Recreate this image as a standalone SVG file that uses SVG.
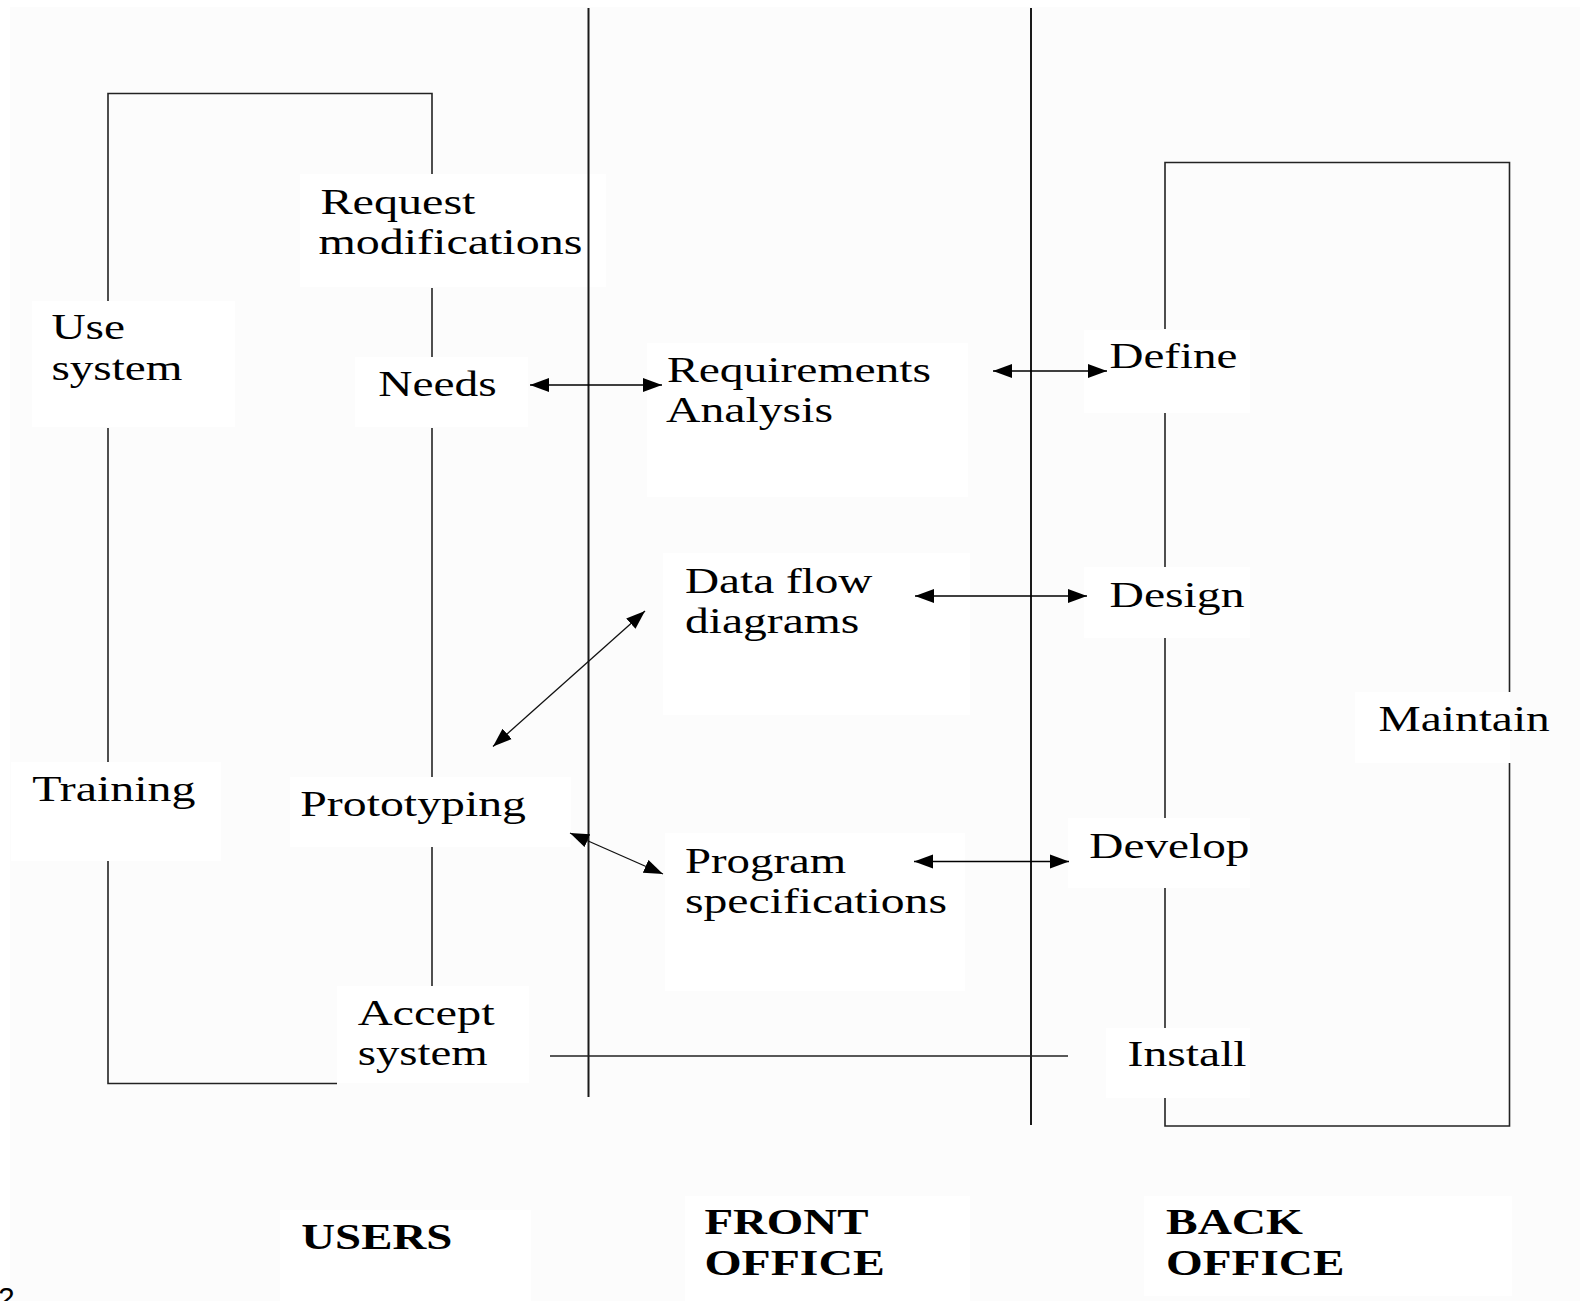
<svg xmlns="http://www.w3.org/2000/svg" width="1580" height="1301" viewBox="0 0 1580 1301">
  <style>
    .bg { fill: #fcfcfc; }
    .box { fill: #ffffff; }
    .t { font-family: "Liberation Serif", "Times New Roman", serif; font-size: 35px; fill: #000; }
    .h { font-family: "Liberation Serif", "Times New Roman", serif; font-size: 35px; font-weight: bold; fill: #000; }
    .lane { stroke: #1a1a1a; stroke-width: 2; fill: none; }
    .loop { stroke: #222; stroke-width: 1.6; fill: none; }
    .arr { stroke: #000; stroke-width: 1.7; fill: none; marker-start: url(#head); marker-end: url(#head); }
    .diag { stroke: #111; stroke-width: 1.3; fill: none; marker-start: url(#head); marker-end: url(#head); }
  </style>
  <defs>
    <marker id="head" markerUnits="userSpaceOnUse" markerWidth="20" markerHeight="16" viewBox="0 0 20 16" refX="19" refY="7.5" orient="auto-start-reverse">
      <path d="M0,0.5 L19,7.5 L0,14.5 z" fill="#000"/>
    </marker>
  </defs>

  <!-- page -->
  <rect x="0" y="0" width="1580" height="1301" fill="#ffffff"/>
  <rect class="bg" x="10" y="7" width="1570" height="1294"/>

  <!-- labels (white panels under the text) -->
  <g id="use-system">
    <rect class="box" x="32" y="301" width="203" height="126"/>
    <text class="t" x="51.4" y="338.6" textLength="73.6" lengthAdjust="spacingAndGlyphs">Use</text>
    <text class="t" x="51.4" y="380" textLength="131" lengthAdjust="spacingAndGlyphs">system</text>
  </g>

  <g id="request-modifications">
    <rect class="box" x="300" y="174" width="306" height="113"/>
    <text class="t" x="320.5" y="213.6" textLength="155" lengthAdjust="spacingAndGlyphs">Request</text>
    <text class="t" x="318.4" y="254" textLength="264" lengthAdjust="spacingAndGlyphs">modifications</text>
  </g>

  <g id="needs">
    <rect class="box" x="355" y="357" width="173" height="70"/>
    <text class="t" x="378.3" y="395.7" textLength="118.4" lengthAdjust="spacingAndGlyphs">Needs</text>
  </g>

  <g id="requirements-analysis">
    <rect class="box" x="647" y="343" width="321" height="154"/>
    <text class="t" x="667" y="381.9" textLength="264" lengthAdjust="spacingAndGlyphs">Requirements</text>
    <text class="t" x="666" y="422.2" textLength="167" lengthAdjust="spacingAndGlyphs">Analysis</text>
  </g>

  <g id="define">
    <rect class="box" x="1084" y="330" width="166" height="83"/>
    <text class="t" x="1109.5" y="367.8" textLength="128" lengthAdjust="spacingAndGlyphs">Define</text>
  </g>

  <g id="data-flow-diagrams">
    <rect class="box" x="663" y="553" width="307" height="162"/>
    <text class="t" x="685" y="592.5" textLength="187.4" lengthAdjust="spacingAndGlyphs">Data flow</text>
    <text class="t" x="685" y="632.8" textLength="174.3" lengthAdjust="spacingAndGlyphs">diagrams</text>
  </g>

  <g id="design">
    <rect class="box" x="1084" y="567" width="166" height="71"/>
    <text class="t" x="1109.5" y="606.6" textLength="135" lengthAdjust="spacingAndGlyphs">Design</text>
  </g>

  <g id="maintain">
    <rect class="box" x="1355" y="692" width="155" height="71"/>
    <text class="t" x="1378.5" y="730.6" textLength="171.3" lengthAdjust="spacingAndGlyphs">Maintain</text>
  </g>

  <g id="training">
    <rect class="box" x="11" y="762" width="210" height="99"/>
    <text class="t" x="32.2" y="801.1" textLength="163.2" lengthAdjust="spacingAndGlyphs">Training</text>
  </g>

  <g id="prototyping">
    <rect class="box" x="290" y="777" width="281" height="70"/>
    <text class="t" x="300.3" y="816.2" textLength="225.7" lengthAdjust="spacingAndGlyphs">Prototyping</text>
  </g>

  <g id="program-specifications">
    <rect class="box" x="665" y="833" width="300" height="158"/>
    <text class="t" x="685" y="872.7" textLength="161.2" lengthAdjust="spacingAndGlyphs">Program</text>
    <text class="t" x="685" y="913" textLength="262" lengthAdjust="spacingAndGlyphs">specifications</text>
  </g>

  <g id="develop">
    <rect class="box" x="1068" y="818" width="182" height="70"/>
    <text class="t" x="1089.3" y="857.5" textLength="160.2" lengthAdjust="spacingAndGlyphs">Develop</text>
  </g>

  <g id="accept-system">
    <rect class="box" x="337" y="986" width="192" height="97"/>
    <text class="t" x="357.7" y="1024.8" textLength="137" lengthAdjust="spacingAndGlyphs">Accept</text>
    <text class="t" x="357.7" y="1065.1" textLength="130" lengthAdjust="spacingAndGlyphs">system</text>
  </g>

  <g id="install">
    <rect class="box" x="1106" y="1028" width="144" height="70"/>
    <text class="t" x="1127.6" y="1066.1" textLength="119" lengthAdjust="spacingAndGlyphs">Install</text>
  </g>

  <!-- lane captions -->
  <g id="users-lane">
    <rect class="box" x="280" y="1210" width="251" height="91"/>
    <text class="h" x="301.3" y="1248.5" textLength="151" lengthAdjust="spacingAndGlyphs">USERS</text>
  </g>

  <g id="front-office-lane">
    <rect class="box" x="685" y="1196" width="285" height="105"/>
    <text class="h" x="704.4" y="1234.4" textLength="164" lengthAdjust="spacingAndGlyphs">FRONT</text>
    <text class="h" x="704.4" y="1274.8" textLength="180.4" lengthAdjust="spacingAndGlyphs">OFFICE</text>
  </g>

  <g id="back-office-lane">
    <rect class="box" x="1144" y="1196" width="368" height="100"/>
    <text class="h" x="1166" y="1234.4" textLength="137" lengthAdjust="spacingAndGlyphs">BACK</text>
    <text class="h" x="1166" y="1274.8" textLength="178.4" lengthAdjust="spacingAndGlyphs">OFFICE</text>
  </g>

  <!-- swimlane dividers -->
  <g id="lanes">
    <line class="lane" x1="588.5" y1="8" x2="588.5" y2="1097"/>
    <line class="lane" x1="1031" y1="8" x2="1031" y2="1125"/>
  </g>

  <!-- loop edges and arrows -->
  <g id="connectors">
    <!-- users cycle -->
    <polyline class="loop" points="108,301 108,93.5 432,93.5 432,174"/>
    <line class="loop" x1="432" y1="288" x2="432" y2="357"/>
    <line class="loop" x1="108" y1="428" x2="108" y2="762"/>
    <line class="loop" x1="432" y1="428" x2="432" y2="777"/>
    <line class="loop" x1="432" y1="847" x2="432" y2="986"/>
    <polyline class="loop" points="108,861 108,1083.5 337,1083.5"/>
    <!-- accept system to install -->
    <line class="loop" x1="550" y1="1056" x2="1068" y2="1056"/>
    <!-- back office cycle -->
    <polyline class="loop" points="1165,329 1165,162.5 1509.5,162.5 1509.5,692"/>
    <line class="loop" x1="1165" y1="413" x2="1165" y2="567"/>
    <line class="loop" x1="1165" y1="638" x2="1165" y2="818"/>
    <line class="loop" x1="1165" y1="888" x2="1165" y2="1028"/>
    <polyline class="loop" points="1165,1098 1165,1126 1509.5,1126 1509.5,763"/>
    <!-- two-way arrows -->
    <line class="arr" x1="530" y1="385" x2="662" y2="385"/>
    <line class="arr" x1="993" y1="371" x2="1107" y2="371"/>
    <line class="arr" x1="915" y1="596" x2="1087" y2="596"/>
    <line class="arr" x1="914" y1="861.5" x2="1069" y2="861.5"/>
    <line class="diag" x1="493" y1="746.5" x2="645" y2="611"/>
    <line class="diag" x1="570" y1="833" x2="663" y2="874"/>
  </g>

  <!-- clipped page number in the corner -->
  <text x="-2" y="1308" font-family="Liberation Sans, Arial, sans-serif" font-size="30" fill="#000">2</text>
</svg>
